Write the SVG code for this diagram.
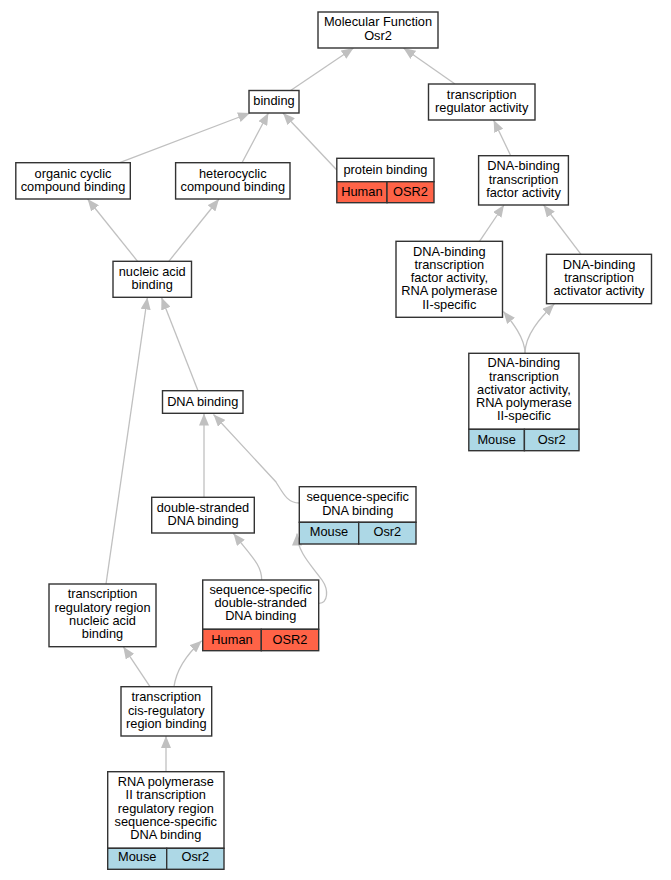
<svg xmlns="http://www.w3.org/2000/svg" width="671" height="880" viewBox="0 0 671 880">
<defs>
<marker id="ah" markerUnits="userSpaceOnUse" markerWidth="12" markerHeight="10" viewBox="0 0 12 10" refX="12" refY="5" orient="auto">
<path d="M0,0 L12,5 L0,10 z" fill="#c0c0c0"/>
</marker>
<style>
rect{stroke:#333;stroke-width:1.4;fill:#fff}
rect.h{fill:#ff6347}
rect.m{fill:#add8e6}
text{font-family:"Liberation Sans",Arial,sans-serif;font-size:12.8px;text-anchor:middle;fill:#000}
#edges path{fill:none;stroke:#c0c0c0;stroke-width:1.3;marker-end:url(#ah)}
</style>
</defs>
<rect x="0" y="0" width="671" height="880" style="fill:#fff;stroke:none"/>
<g id="edges">
<path d="M290.6,90.5 L353.5,48"/>
<path d="M455,84 L403.5,48"/>
<path d="M119.7,162.7 L250,113"/>
<path d="M242,162.7 L268.4,113"/>
<path d="M336.8,170 L283,113"/>
<path d="M510.7,155.7 L493.6,120"/>
<path d="M137.6,261.3 L87.6,199"/>
<path d="M168.8,261.3 L219,199"/>
<path d="M479.5,241.3 L504,205"/>
<path d="M581,254.3 L543.6,205"/>
<path d="M525,353.3 C525,338 512,322 503.5,311.5"/>
<path d="M525,353.3 C525,335 540,318 554.3,304"/>
<path d="M198,390.7 L161.5,297.5"/>
<path d="M106,584 L147.4,297.5"/>
<path d="M204,497.3 L204,413.5"/>
<path d="M299.3,503 C288,503 284,495 276,482 L213.5,414.5"/>
<path d="M261.7,580 C261.7,565 252,557 233.5,533.5"/>
<path d="M319,603.3 C328,603 329,590 322,580 C312,566 297,552 297,533.5"/>
<path d="M150,686.7 L123.3,646.7"/>
<path d="M174,686.7 C176,672 185,656 201.7,640.7"/>
<path d="M166,771.7 L166,736"/>
</g>
<g id="n1"><rect x="318" y="12" width="120" height="36"/><text x="378" y="26.2">Molecular Function</text><text x="378" y="39.5">Osr2</text></g>
<g id="n2"><rect x="249" y="90.5" width="50" height="22.5"/><text x="274" y="105.2">binding</text></g>
<g id="n3"><rect x="428.5" y="84" width="106.5" height="36"/><text x="481.7" y="98.5">transcription</text><text x="481.7" y="111.8">regulator activity</text></g>
<g id="n4"><rect x="15.8" y="162.7" width="114.5" height="36.3"/><text x="73" y="177.5">organic cyclic</text><text x="73" y="190.8">compound binding</text></g>
<g id="n5"><rect x="175.6" y="162.7" width="114.4" height="36.3"/><text x="232.8" y="177.5">heterocyclic</text><text x="232.8" y="190.8">compound binding</text></g>
<g id="n6"><rect x="336.8" y="158.3" width="97.2" height="23.4"/><text x="385.4" y="173.8">protein binding</text><rect class="h" x="336.8" y="181.7" width="50.2" height="21"/><text x="361.9" y="195.5">Human</text><rect class="h" x="387" y="181.7" width="47" height="21"/><text x="410.5" y="195.5">OSR2</text></g>
<g id="n7"><rect x="478.6" y="155.7" width="89.8" height="49.3"/><text x="523.5" y="170.2">DNA-binding</text><text x="523.5" y="183.5">transcription</text><text x="523.5" y="196.8">factor activity</text></g>
<g id="n8"><rect x="113" y="261.3" width="78.5" height="36"/><text x="152.2" y="275.5">nucleic acid</text><text x="152.2" y="288.8">binding</text></g>
<g id="n9"><rect x="396" y="241.3" width="106.5" height="76"/><text x="449.3" y="255.5">DNA-binding</text><text x="449.3" y="268.8">transcription</text><text x="449.3" y="282.1">factor activity,</text><text x="449.3" y="295.4">RNA polymerase</text><text x="449.3" y="308.7">II-specific</text></g>
<g id="n10"><rect x="546.5" y="254.3" width="105" height="49.4"/><text x="599" y="268.8">DNA-binding</text><text x="599" y="282.1">transcription</text><text x="599" y="295.4">activator activity</text></g>
<g id="n11"><rect x="468.8" y="353.3" width="110.2" height="76"/><text x="523.9" y="367.2">DNA-binding</text><text x="523.9" y="380.5">transcription</text><text x="523.9" y="393.8">activator activity,</text><text x="523.9" y="407.1">RNA polymerase</text><text x="523.9" y="420.4">II-specific</text><rect class="m" x="468.8" y="429.3" width="55.6" height="21.4"/><text x="496.6" y="443.5">Mouse</text><rect class="m" x="524.4" y="429.3" width="54.6" height="21.4"/><text x="551.7" y="443.5">Osr2</text></g>
<g id="n12"><rect x="162.5" y="390.7" width="80.5" height="22.6"/><text x="202.7" y="405.5">DNA binding</text></g>
<g id="n13"><rect x="151.7" y="497.3" width="102.6" height="35.7"/><text x="203" y="511.5">double-stranded</text><text x="203" y="524.8">DNA binding</text></g>
<g id="n14"><rect x="299.3" y="486.7" width="116.7" height="35.6"/><text x="357.7" y="501.2">sequence-specific</text><text x="357.7" y="514.5">DNA binding</text><rect class="m" x="299.3" y="522.3" width="59.4" height="21.7"/><text x="329" y="536.2">Mouse</text><rect class="m" x="358.7" y="522.3" width="57.3" height="21.7"/><text x="387.3" y="536.2">Osr2</text></g>
<g id="n15"><rect x="49" y="584" width="107" height="62.7"/><text x="102.5" y="598.2">transcription</text><text x="102.5" y="611.5">regulatory region</text><text x="102.5" y="624.8">nucleic acid</text><text x="102.5" y="638.1">binding</text></g>
<g id="n16"><rect x="202.7" y="580" width="116" height="49.3"/><text x="260.7" y="593.8">sequence-specific</text><text x="260.7" y="607.1">double-stranded</text><text x="260.7" y="620.4">DNA binding</text><rect class="h" x="202.7" y="629.3" width="58.6" height="21.4"/><text x="232" y="643.5">Human</text><rect class="h" x="261.3" y="629.3" width="57.4" height="21.4"/><text x="290" y="643.5">OSR2</text></g>
<g id="n17"><rect x="121" y="686.7" width="90.7" height="49.3"/><text x="166.3" y="701.2">transcription</text><text x="166.3" y="714.5">cis-regulatory</text><text x="166.3" y="727.8">region binding</text></g>
<g id="n18"><rect x="107.7" y="771.7" width="116.3" height="76.6"/><text x="165.8" y="786">RNA polymerase</text><text x="165.8" y="799.3">II transcription</text><text x="165.8" y="812.6">regulatory region</text><text x="165.8" y="825.9">sequence-specific</text><text x="165.8" y="839.2">DNA binding</text><rect class="m" x="107.7" y="848.3" width="59" height="21"/><text x="137.2" y="861.2">Mouse</text><rect class="m" x="166.7" y="848.3" width="57.3" height="21"/><text x="195.3" y="861.2">Osr2</text></g>
</svg>
